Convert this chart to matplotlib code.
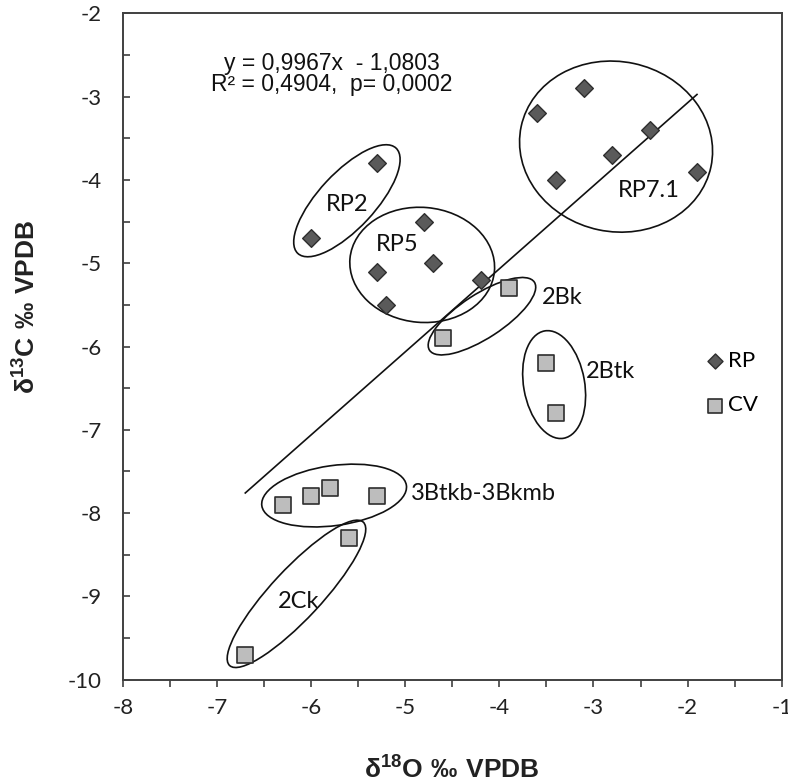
import matplotlib
matplotlib.use("Agg")
import matplotlib.pyplot as plt
from matplotlib.patches import Ellipse
from matplotlib.transforms import ScaledTranslation
import numpy as np

# d18O / d13C values
rp_x = [-5.3, -6.0, -4.8, -5.3, -4.7, -5.2, -4.2, -3.1, -3.6, -2.4, -2.8, -3.4, -1.9]
rp_y = [-3.8, -4.7, -4.5, -5.1, -5.0, -5.5, -5.2, -2.9, -3.2, -3.4, -3.7, -4.0, -3.9]
cv_x = [-3.9, -4.6, -3.5, -3.4, -6.3, -6.0, -5.8, -5.3, -5.6, -6.7]
cv_y = [-5.3, -5.9, -6.2, -6.8, -7.9, -7.8, -7.7, -7.8, -8.3, -9.7]

slope = 0.9967
intercept = -1.0803
r2 = "0,4904"
p_value = "0,0002"

group_names = ["RP2", "RP5", "RP7.1", "2Bk", "2Btk", "3Btkb-3Bkmb", "2Ck"]

plt.rcParams["font.family"] = ["Lato", "DejaVu Sans"]
plt.rcParams["mathtext.fontset"] = "custom"
plt.rcParams["mathtext.rm"] = "Liberation Sans"
plt.rcParams["mathtext.bf"] = "Liberation Sans:bold"

fig = plt.figure(figsize=(7.88, 7.84), dpi=100)
ax = fig.add_axes([0.156, 0.133, 0.836, 0.850])

ax.scatter(rp_x, rp_y, marker="D", s=9.0 ** 2, facecolor="#5a5a5a",
           edgecolor="#2e2e2e", linewidth=1.0, zorder=3, label="RP")
ax.scatter(cv_x, cv_y, marker="s", s=12.0 ** 2, facecolor="#bdbdbd",
           edgecolor="#2e2e2e", linewidth=1.2, zorder=3, label="CV")

# linear trendline over the data range
all_x = np.array(rp_x + cv_x)
xs = np.array([all_x.min(), all_x.max()])
ax.plot(xs, slope * xs + intercept, color="#111111", lw=1.2, zorder=2)

# hand-drawn group outlines: centre in data units, size in pixels
shapes = {
    "RP2": ((-5.62, -4.25), 144, 56, 47),
    "RP5": ((-4.82, -5.02), 145, 115, -5),
    "RP7.1": ((-2.76, -3.60), 194, 170, -12),
    "2Bk": ((-4.185, -5.636), 125, 44, 33),
    "2Btk": ((-3.418, -6.457), 109, 61, 100),
    "3Btkb-3Bkmb": ((-5.756, -7.789), 146, 60, 8),
    "2Ck": ((-6.156, -8.969), 196, 50, 47),
}
label_pos = {
    "RP2": (-5.62, -4.29, "center"),
    "RP5": (-5.09, -4.78, "center"),
    "RP7.1": (-2.41, -4.13, "center"),
    "2Bk": (-3.33, -5.41, "center"),
    "2Btk": (-2.82, -6.30, "center"),
    "3Btkb-3Bkmb": (-4.94, -7.76, "left"),
    "2Ck": (-6.13, -9.06, "center"),
}
for name in group_names:
    (cx, cy), w, h, ang = shapes[name]
    tr = fig.dpi_scale_trans + ScaledTranslation(cx, cy, ax.transData)
    ax.add_patch(Ellipse((0, 0), w / 100, h / 100, angle=ang, transform=tr,
                         fill=False, edgecolor="#111111", lw=1.2, zorder=2))
    lx, ly, ha = label_pos[name]
    ax.text(lx, ly, name, ha=ha, va="center", fontsize=17, color="#111111")

eq = f"y = {slope:.4f}x  - {abs(intercept):.4f}".replace(".", ",")
ax.text(-5.78, -2.73, f"{eq}\nR² = {r2},  p= {p_value}",
        ha="center", va="center", fontsize=16.5, family="Liberation Sans",
        linespacing=0.92, color="#111111")

ax.set_xlim(-8, -1)
ax.set_ylim(-10, -2)
xt = np.arange(-8, -0.9, 0.5)
yt = np.arange(-10, -1.9, 0.5)
ax.set_xticks(xt)
ax.set_yticks(yt)
ax.set_xticklabels([f"{v:g}" if v == int(v) else "" for v in xt])
ax.set_yticklabels([f"{v:g}" if v == int(v) else "" for v in yt])
ax.tick_params(axis="x", direction="out", length=5, width=1.2, color="#404040",
               labelsize=16, pad=8, labelcolor="#222222")
ax.tick_params(axis="y", direction="in", length=5, width=1.2, color="#404040",
               labelsize=16, pad=15, labelcolor="#222222")
for sp in ax.spines.values():
    sp.set_color("#404040")
    sp.set_linewidth(1.4)

fig.text(0.573, 0.007, r"$\mathbf{δ^{18}O\ ‰\ VPDB}$", fontsize=19,
         ha="center", va="baseline", color="#222222")
ax.set_ylabel(r"$\mathbf{δ^{13}C\ ‰\ VPDB}$", fontsize=19, color="#222222")
ax.yaxis.set_label_coords(-0.125, 0.56)

ax.legend(loc="upper left", bbox_to_anchor=(0.87, 0.51), frameon=False,
          fontsize=16, handlelength=0.7, handletextpad=0.25, labelspacing=1.1,
          markerscale=0.85, borderpad=0)

fig.savefig("out.png", dpi=100)
